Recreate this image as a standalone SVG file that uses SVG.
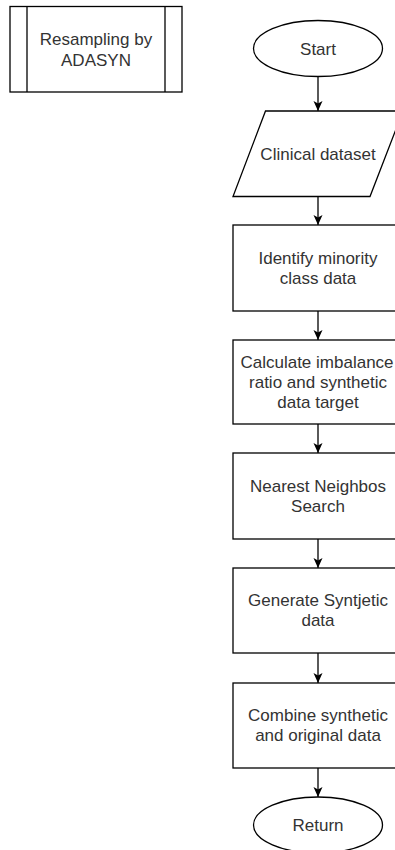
<svg xmlns="http://www.w3.org/2000/svg" width="395" height="850" viewBox="0 0 395 850">
<defs>
<style>
.s{fill:#ffffff;stroke:#000000;stroke-width:1.3}
.t{font-family:"Liberation Sans",Arial,sans-serif;font-size:17px;fill:#333333;text-anchor:middle}
.c{stroke:#000000;stroke-width:1.3;fill:none}
</style>
<marker id="arr" markerWidth="10" markerHeight="10" viewBox="0 0 10 10" refX="10" refY="5" orient="auto" markerUnits="userSpaceOnUse">
<path d="M0,0.5 L10,5 L0,9.5 L2.5,5 Z" fill="#000000"/>
</marker>
</defs>
<rect width="395" height="850" fill="#ffffff"/>
<g id="connectors">
<line class="c" x1="318" y1="76.5" x2="318" y2="111" marker-end="url(#arr)"/>
<line class="c" x1="318" y1="196" x2="318" y2="225" marker-end="url(#arr)"/>
<line class="c" x1="318" y1="311" x2="318" y2="340" marker-end="url(#arr)"/>
<line class="c" x1="318" y1="424" x2="318" y2="453" marker-end="url(#arr)"/>
<line class="c" x1="318" y1="539" x2="318" y2="568" marker-end="url(#arr)"/>
<line class="c" x1="318" y1="653" x2="318" y2="683" marker-end="url(#arr)"/>
<line class="c" x1="318" y1="768" x2="318" y2="797" marker-end="url(#arr)"/>
</g>
<g id="resampling">
<rect class="s" x="10" y="6.5" width="172" height="85.5"/>
<line class="c" x1="27" y1="6.5" x2="27" y2="92"/>
<line class="c" x1="165" y1="6.5" x2="165" y2="92"/>
<text class="t" x="96" y="45">Resampling by</text>
<text class="t" x="96" y="66">ADASYN</text>
</g>
<g id="start">
<ellipse class="s" cx="318" cy="48.5" rx="64.5" ry="28"/>
<text class="t" x="318" y="55">Start</text>
</g>
<g id="clinical">
<polygon class="s" points="265.5,111 403,111 370,196.5 233,196.5"/>
<text class="t" x="318" y="160">Clinical dataset</text>
</g>
<g id="identify">
<rect class="s" x="233" y="225" width="172" height="86"/>
<text class="t" x="318" y="264">Identify minority</text>
<text class="t" x="318" y="284">class data</text>
</g>
<g id="calculate">
<rect class="s" x="233" y="340" width="172" height="84"/>
<text class="t" x="317" y="368">Calculate imbalance</text>
<text class="t" x="318" y="388">ratio and synthetic</text>
<text class="t" x="318" y="408">data target</text>
</g>
<g id="nearest">
<rect class="s" x="233" y="453" width="172" height="86"/>
<text class="t" x="318" y="492">Nearest Neighbos</text>
<text class="t" x="318" y="512">Search</text>
</g>
<g id="generate">
<rect class="s" x="233" y="568" width="172" height="85"/>
<text class="t" x="318" y="606">Generate Syntjetic</text>
<text class="t" x="318" y="626">data</text>
</g>
<g id="combine">
<rect class="s" x="233" y="683" width="172" height="85"/>
<text class="t" x="318" y="721">Combine synthetic</text>
<text class="t" x="318" y="741">and original data</text>
</g>
<g id="return">
<ellipse class="s" cx="318" cy="825" rx="64.5" ry="28"/>
<text class="t" x="318" y="831">Return</text>
</g>
</svg>
